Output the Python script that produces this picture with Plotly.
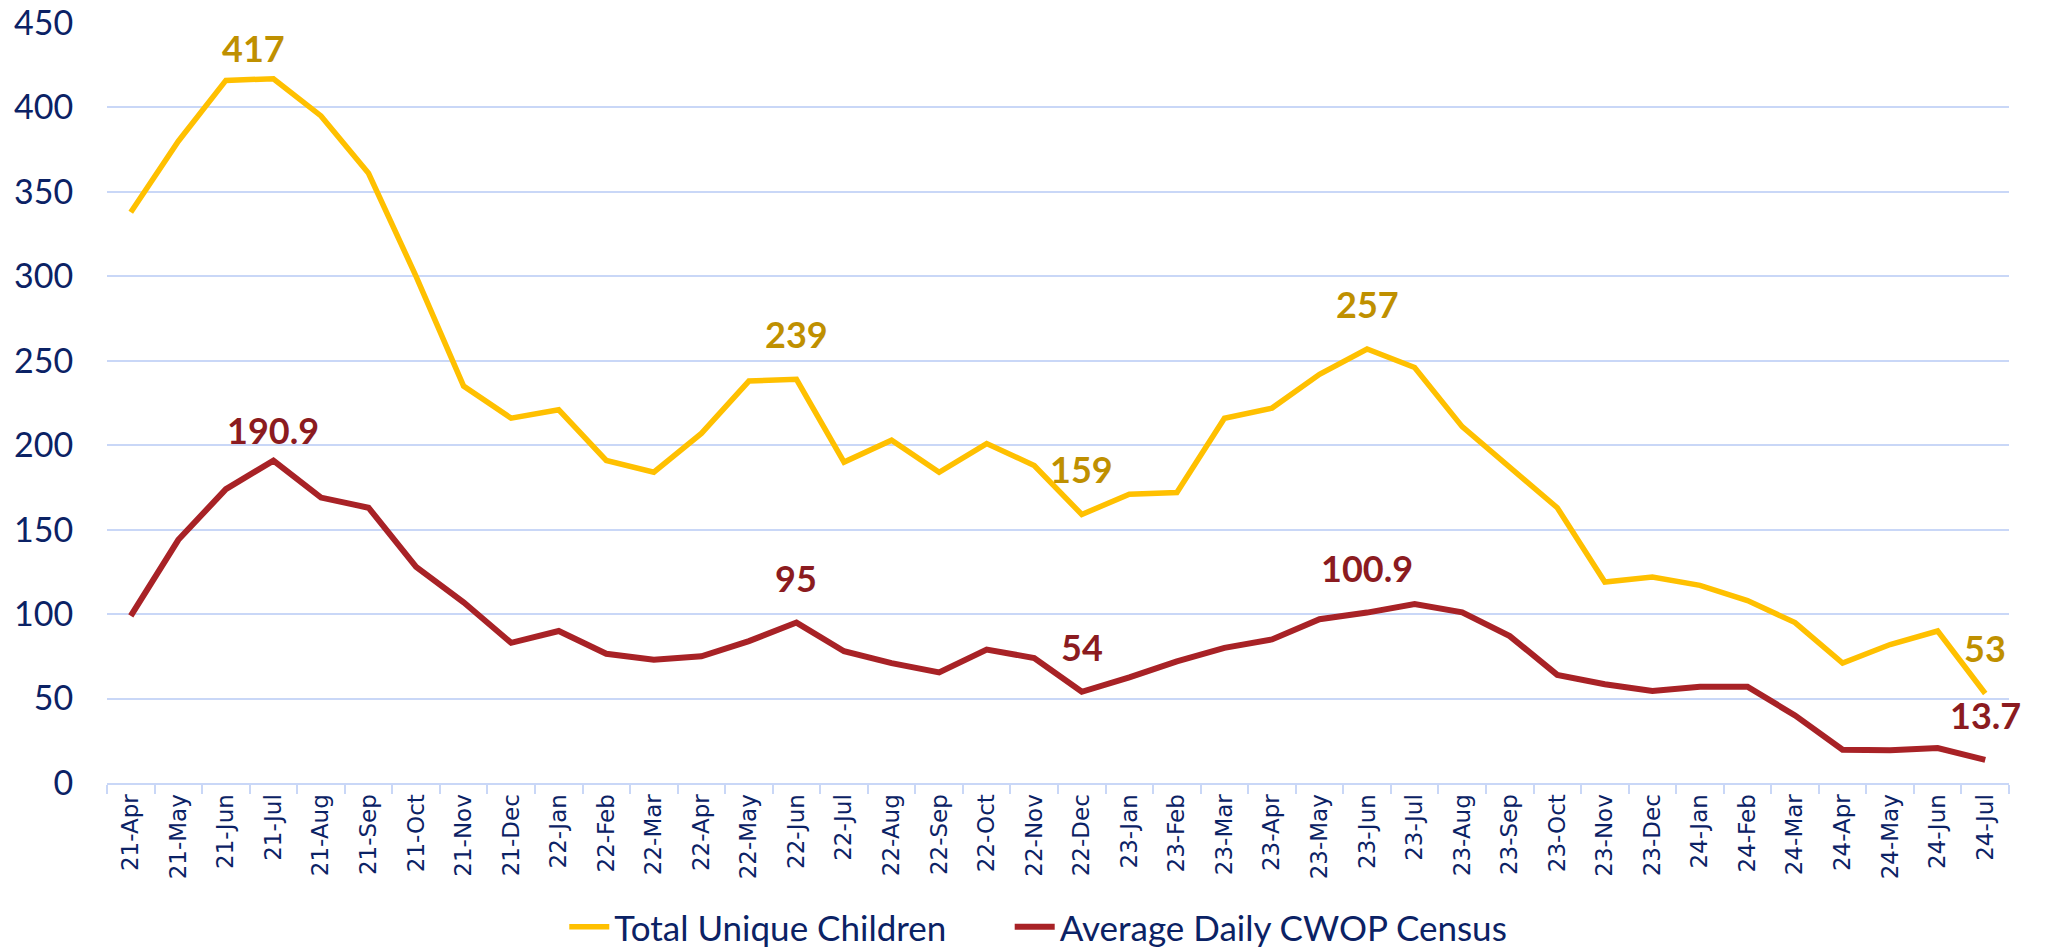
import plotly.graph_objects as go

months = ["21-Apr", "21-May", "21-Jun", "21-Jul", "21-Aug", "21-Sep", "21-Oct", "21-Nov", "21-Dec",
          "22-Jan", "22-Feb", "22-Mar", "22-Apr", "22-May", "22-Jun", "22-Jul", "22-Aug", "22-Sep",
          "22-Oct", "22-Nov", "22-Dec", "23-Jan", "23-Feb", "23-Mar", "23-Apr", "23-May", "23-Jun",
          "23-Jul", "23-Aug", "23-Sep", "23-Oct", "23-Nov", "23-Dec", "24-Jan", "24-Feb", "24-Mar",
          "24-Apr", "24-May", "24-Jun", "24-Jul"]

total_unique_children = [338, 380, 416, 417, 395, 361, 300, 235, 216, 221, 191, 184, 207, 238, 239,
                         190, 203, 184, 201, 188, 159, 171, 172, 216, 222, 242, 257, 246, 211, 187,
                         163, 119, 122, 117, 108, 95, 71, 82, 90, 53]

avg_daily_cwop = [99, 144, 174, 190.9, 169, 163, 128, 107, 83, 90, 76.5, 73, 75, 84, 95, 78, 71,
                  65.5, 79, 74, 54, 62.5, 72, 80, 85, 97, 100.9, 106, 101, 87, 64, 58.5, 54.5, 57,
                  57, 40, 19.7, 19.4, 20.7, 13.7]

# months whose points carry a data label
children_labels = ["21-Jul", "22-Jun", "22-Dec", "23-Jun", "24-Jul"]
cwop_labels = ["21-Jul", "22-Jun", "22-Dec", "23-Jun", "24-Jul"]

y_ticks = [0, 50, 100, 150, 200, 250, 300, 350, 400, 450]

YELLOW = "#FFC000"
RED = "#A82226"
GOLD_TXT = "#BF9000"
RED_TXT = "#8B1B20"
NAVY = "#0B2265"
GRID = "#C9D7F7"
FONT = "Lato"
TICKFONT = "DejaVu Sans"

# label placement tweaks (style only)
label_yshift = {"21-Jul": 7}
label_xshift = {("children", "21-Jul"): -20}

fig = go.Figure()
fig.add_trace(go.Scatter(x=months, y=total_unique_children, mode="lines",
                         name="Total Unique Children", legend="legend",
                         line=dict(color=YELLOW, width=5.5)))
fig.add_trace(go.Scatter(x=months, y=avg_daily_cwop, mode="lines",
                         name="Average Daily CWOP Census", legend="legend2",
                         line=dict(color=RED, width=6)))


def add_labels(key, labels, values, color):
    for m in labels:
        v = values[months.index(m)]
        fig.add_annotation(x=m, y=v, text=f"{v:g}", showarrow=False,
                           yanchor="bottom", yshift=label_yshift.get(m, 21),
                           xshift=label_xshift.get((key, m), 0),
                           font=dict(family=FONT, size=36, color=color, weight="bold"))


add_labels("children", children_labels, total_unique_children, GOLD_TXT)
add_labels("cwop", cwop_labels, avg_daily_cwop, RED_TXT)

legend_style = dict(orientation="h", xref="container", yref="container",
                    xanchor="left", y=0.021, yanchor="middle",
                    font=dict(family=FONT, size=35, color=NAVY),
                    itemwidth=40, bgcolor="rgba(0,0,0,0)")

fig.update_layout(
    width=2046, height=947,
    margin=dict(l=107, r=37, t=23, b=164, autoexpand=False),
    paper_bgcolor="white", plot_bgcolor="white",
    font=dict(family=FONT, color=NAVY),
    showlegend=True,
    legend=dict(x=0.2758, **legend_style),
    legend2=dict(x=0.4935, **legend_style),
)
fig.update_xaxes(type="category", tickangle=-90, tickson="boundaries", automargin=False,
                 ticks="outside", ticklen=9, tickcolor=GRID, tickwidth=2,
                 showline=True, linecolor=GRID, linewidth=2, showgrid=False,
                 tickfont=dict(family=TICKFONT, size=23, color=NAVY),
                 range=[-0.5, len(months) - 0.5])
fig.update_yaxes(range=[0, 450], tickvals=y_ticks, showgrid=True, gridcolor=GRID, gridwidth=2,
                 automargin=False,
                 zeroline=False, showline=False, ticks="outside", ticklen=26,
                 tickcolor="rgba(0,0,0,0)",
                 tickfont=dict(family=FONT, size=34, color=NAVY))

fig.write_html("out.html", config={"displayModeBar": False},
               post_script="document.body.style.margin='0';document.body.style.overflow='hidden';")
